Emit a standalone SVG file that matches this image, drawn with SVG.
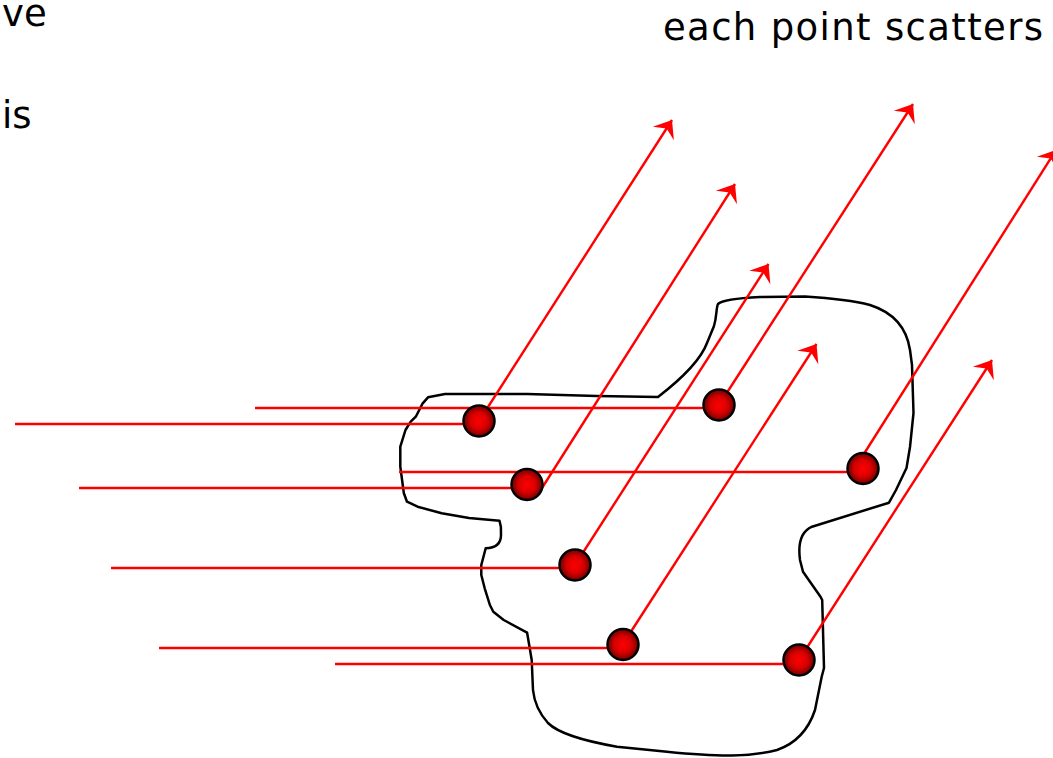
<svg xmlns="http://www.w3.org/2000/svg" width="1053" height="758" viewBox="0 0 1053 758">
  <style>
    .lbl { font-family: "DejaVu Sans", "Liberation Sans", sans-serif; font-size: 37px; fill: #000; }
    .ray { stroke: #ff0000; stroke-width: 2.4; fill: none; }
    .out { marker-end: url(#ah); }
    .pt { fill: url(#ball); stroke: #000; stroke-width: 2.5; }
    .blob { fill: none; stroke: #000; stroke-width: 2.5; stroke-linejoin: round; }
  </style>
  <defs>
    <radialGradient id="ball" cx="50%" cy="50%" r="50%">
      <stop offset="0" stop-color="#ff0000"/>
      <stop offset="0.55" stop-color="#d80000"/>
      <stop offset="1" stop-color="#700000"/>
    </radialGradient>
    <marker id="ah" viewBox="-18 -14 20 28" markerWidth="20" markerHeight="28" refX="0" refY="0" orient="auto" markerUnits="userSpaceOnUse">
      <path d="M0,0 L-16,-12.5 L-10,0 L-16,12.5 Z" fill="#ff0000"/>
    </marker>
  </defs>

  <g id="labels">
    <text class="lbl" x="2" y="26">ve</text>
    <text class="lbl" x="2" y="128">is</text>
    <text class="lbl" x="663" y="40" textLength="380" lengthAdjust="spacing">each point scatters</text>
  </g>

  <g id="object">
    <path class="blob" d="M445,394 L527,394 L597,396 L658,397 C680,380 700,362 707,343 L714,326 C717,316 716,308 718,304 C722,300 740,298 760,297 L805,296.5 C830,298 855,301 870,305 C895,313 907,330 910,350 L912,365 L913.5,413 L910,447 L906.5,468 L896,490 L889,502.7 L812,526.7 C800,532 798,545 800,560 L803,571.7 L820.5,596.7 L822.2,600 L824,668 L821.7,676.7 L815,710 C810,725 800,742 777,750 C750,757 720,757 667,751.7 L617,746.7 C590,742 560,735 548,723 C538,712 534,700 533,690 L531.7,660 L529.5,646.7 L527.1,632.7 L503.7,620 L493.3,611.7 L489.9,605 L484.7,588.3 L481.3,575 L481.3,565 L485.7,548.3 C495,548 501,544 501,535 L500.9,527 L499.5,520.7 L469,518 L441.7,513.3 L417.6,506.7 L407,501.7 L403.8,493 L400.3,466.7 L400.3,446.7 L405.5,430 L410.7,421.7 L415.8,416.7 L422.7,403.3 L428,397.3 Z"/>
  </g>

  <g id="connectors">
    <line class="ray" x1="15" y1="424" x2="479" y2="424"/>
    <line class="ray" x1="255" y1="408" x2="719" y2="408"/>
    <line class="ray" x1="79" y1="488" x2="527" y2="488"/>
    <line class="ray" x1="399" y1="472" x2="863" y2="472"/>
    <line class="ray" x1="111" y1="568" x2="575" y2="568"/>
    <line class="ray" x1="159" y1="648" x2="623" y2="648"/>
    <line class="ray" x1="335" y1="664" x2="799" y2="664"/>

    <line class="ray out" x1="479" y1="421" x2="672" y2="120"/>
    <line class="ray out" x1="719" y1="405" x2="913" y2="104"/>
    <line class="ray out" x1="542" y1="488" x2="735" y2="184"/>
    <line class="ray out" x1="855" y1="468" x2="1056" y2="150"/>
    <line class="ray out" x1="575" y1="565" x2="768.5" y2="264"/>
    <line class="ray out" x1="623" y1="644" x2="816.5" y2="344"/>
    <line class="ray out" x1="799" y1="660" x2="992" y2="360"/>
  </g>

  <g id="p1"><circle class="pt" cx="479" cy="421" r="15.5"/></g>
  <g id="p2"><circle class="pt" cx="719" cy="405" r="15.5"/></g>
  <g id="p3"><circle class="pt" cx="527" cy="484.5" r="15.5"/></g>
  <g id="p4"><circle class="pt" cx="863" cy="468.5" r="15.5"/></g>
  <g id="p5"><circle class="pt" cx="575" cy="565" r="15.5"/></g>
  <g id="p6"><circle class="pt" cx="623" cy="644.5" r="15.5"/></g>
  <g id="p7"><circle class="pt" cx="799" cy="660" r="15.5"/></g>
</svg>
